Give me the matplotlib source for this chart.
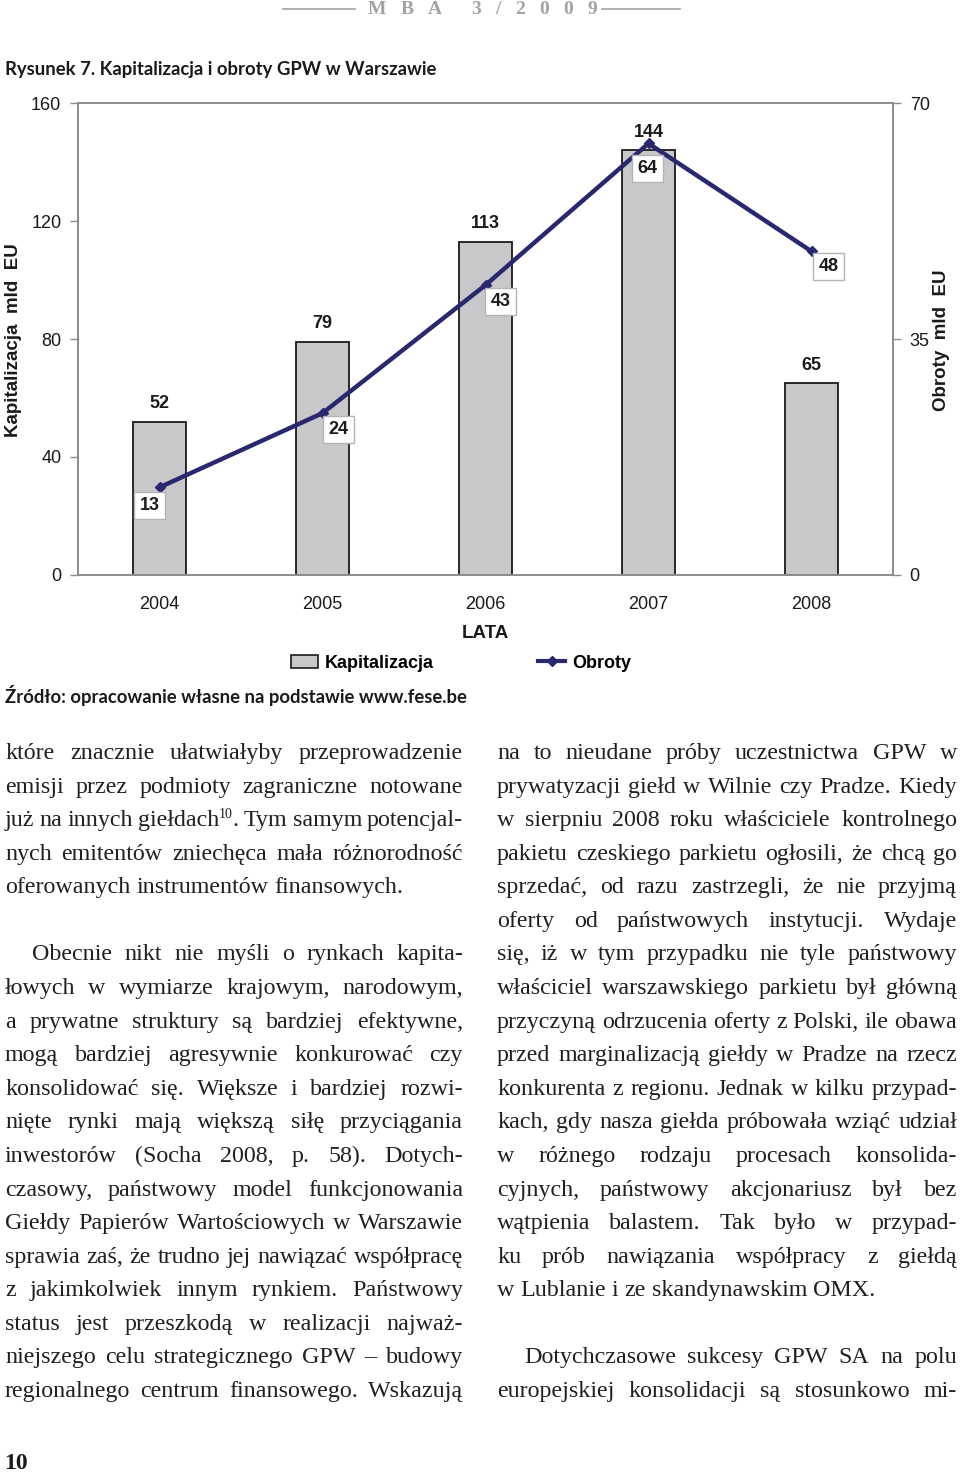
import matplotlib
matplotlib.use('Agg')
import matplotlib.pyplot as plt
from matplotlib.font_manager import FontProperties
from matplotlib.lines import Line2D
from matplotlib.patches import Patch

# chart data
years = ['2004', '2005', '2006', '2007', '2008']
kapitalizacja = [52, 79, 113, 144, 65]
obroty = [13, 24, 43, 64, 48]
left_ticks = [0, 40, 80, 120, 160]
right_ticks = [0, 35, 70]

# where the Obroty labels sit relative to their point (pixels)
obroty_offsets = [(-10, -18), (16, -16), (15, -16), (-1, -25), (17, -15)]

# page text
title = 'Rysunek 7. Kapitalizacja i obroty GPW w Warszawie'
source = 'Źródło: opracowanie własne na podstawie www.fese.be'
header = 'MBA 3/2009'
page_no = '10'

left_paragraphs = [
    (False, True, [
        'które znacznie ułatwiałyby przeprowadzenie',
        'emisji przez podmioty zagraniczne notowane',
        'już na innych giełdach^10^. Tym samym potencjal-',
        'nych emitentów zniechęca mała różnorodność',
        'oferowanych instrumentów finansowych.',
    ]),
    (True, False, [
        'Obecnie nikt nie myśli o rynkach kapita-',
        'łowych w wymiarze krajowym, narodowym,',
        'a prywatne struktury są bardziej efektywne,',
        'mogą bardziej agresywnie konkurować czy',
        'konsolidować się. Większe i bardziej rozwi-',
        'nięte rynki mają większą siłę przyciągania',
        'inwestorów (Socha 2008, p. 58). Dotych-',
        'czasowy, państwowy model funkcjonowania',
        'Giełdy Papierów Wartościowych w Warszawie',
        'sprawia zaś, że trudno jej nawiązać współpracę',
        'z jakimkolwiek innym rynkiem. Państwowy',
        'status jest przeszkodą w realizacji najważ-',
        'niejszego celu strategicznego GPW – budowy',
        'regionalnego centrum finansowego. Wskazują',
    ]),
]

right_paragraphs = [
    (False, True, [
        'na to nieudane próby uczestnictwa GPW w',
        'prywatyzacji giełd w Wilnie czy Pradze. Kiedy',
        'w sierpniu 2008 roku właściciele kontrolnego',
        'pakietu czeskiego parkietu ogłosili, że chcą go',
        'sprzedać, od razu zastrzegli, że nie przyjmą',
        'oferty od państwowych instytucji. Wydaje',
        'się, iż w tym przypadku nie tyle państwowy',
        'właściciel warszawskiego parkietu był główną',
        'przyczyną odrzucenia oferty z Polski, ile obawa',
        'przed marginalizacją giełdy w Pradze na rzecz',
        'konkurenta z regionu. Jednak w kilku przypad-',
        'kach, gdy nasza giełda próbowała wziąć udział',
        'w różnego rodzaju procesach konsolida-',
        'cyjnych, państwowy akcjonariusz był bez',
        'wątpienia balastem. Tak było w przypad-',
        'ku prób nawiązania współpracy z giełdą',
        'w Lublanie i ze skandynawskim OMX.',
    ]),
    (True, False, [
        'Dotychczasowe sukcesy GPW SA na polu',
        'europejskiej konsolidacji są stosunkowo mi-',
    ]),
]

W, H = 960, 1474
fig = plt.figure(figsize=(W / 100, H / 100), dpi=100)
renderer = fig.canvas.get_renderer()

BAR = '#c8c8ca'
LINE = '#29286e'
GRAY = '#8c8c8c'
INK = '#1a1a1a'
sans = 'Liberation Sans'
serif = 'Liberation Serif'


def fx(x):
    return x / W


def fy(y):
    return 1 - y / H


def width(s, fp):
    return renderer.get_text_width_height_descent(s, fp, ismath=False)[0]


# ---- chart ----
ax = fig.add_axes([fx(78), fy(575), (893 - 78) / W, (575 - 103) / H])
ax2 = ax.twinx()
x = list(range(len(years)))

ax.bar(x, kapitalizacja, width=0.33, color=BAR, edgecolor=INK, linewidth=1.3)
ax2.plot(x, obroty, color=LINE, lw=3.2, marker='D', ms=5, zorder=3)

ax.set_xlim(-0.5, 4.5)
ax.set_ylim(0, 160)
ax2.set_ylim(0, 70)
ax.set_yticks(left_ticks)
ax2.set_yticks(right_ticks)
ax.set_xticks(x, years)

for a in (ax, ax2):
    for sp in a.spines.values():
        sp.set_color(GRAY)
        sp.set_linewidth(1.2)
    a.tick_params(axis='y', direction='out', length=6, width=1, color=GRAY,
                  pad=6, labelsize=13, labelcolor=INK)
    for lab in a.get_yticklabels():
        lab.set_fontfamily(sans)
ax.tick_params(axis='x', length=0, pad=15, labelsize=13, labelcolor=INK)
for lab in ax.get_xticklabels():
    lab.set_fontfamily(sans)

for xi, v in zip(x, kapitalizacja):
    ax2.annotate(str(v), (xi, v), xycoords=ax.transData, xytext=(0, 18),
                 textcoords='offset pixels', ha='center', va='center',
                 fontsize=13, fontweight='bold', family=sans, color=INK,
                 zorder=5)

for xi, v, (dx, dy) in zip(x, obroty, obroty_offsets):
    ax2.annotate(str(v), (xi, v), xytext=(dx, dy), textcoords='offset pixels',
                 ha='center', va='center', fontsize=13, fontweight='bold',
                 family=sans, color=INK, zorder=6,
                 bbox=dict(boxstyle='square,pad=0.28', fc='white',
                           ec='#b4b4b4', lw=1))

fig.text(fx(14), fy(340), 'Kapitalizacja  mld  EU', rotation=90, ha='center',
         va='center', fontsize=13.5, fontweight='bold', family=sans, color=INK)
fig.text(fx(941), fy(340), 'Obroty  mld  EU', rotation=90, ha='center',
         va='center', fontsize=13.5, fontweight='bold', family=sans, color=INK)
fig.text(fx(485), fy(634), 'LATA', ha='center', va='center', fontsize=13.5,
         fontweight='bold', family=sans, color=INK)

handles = [Patch(facecolor=BAR, edgecolor=INK, linewidth=1.2),
           Line2D([], [], color=LINE, lw=3, marker='D', ms=5)]
fig.legend(handles, ['Kapitalizacja', 'Obroty'], ncol=2, loc='center',
           bbox_to_anchor=(fx(461), fy(663)), frameon=False,
           prop=FontProperties(family=sans, weight='bold', size=13),
           handlelength=1.5, handletextpad=0.35, columnspacing=5.8)


# ---- titles ----
def fitted(s, family, weight, target):
    fp = FontProperties(family=family, weight=weight, size=10)
    return 10 * target / width(s, fp)


fs = fitted(title, 'Lato', 'bold', 432)
fig.text(fx(5), fy(70), title, ha='left', va='center', fontsize=fs,
         fontweight='bold', family='Lato', color=INK)
fs = fitted(source, 'Lato', 'bold', 462)
fig.text(fx(5), fy(695), source, ha='left', va='center', fontsize=fs,
         fontweight='bold', family='Lato', color=INK)

# header with wide tracking
hp = FontProperties(family=serif, weight='bold', size=14)
natural = sum(width(c, hp) for c in header if c != ' ')
track = (597 - 368 - natural) / (len(header) - 1)
hx = 368
for c in header:
    if c != ' ':
        fig.text(fx(hx), fy(14), c, ha='left', va='baseline',
                 fontproperties=hp, color='#a2a2a2')
        hx += width(c, hp)
    hx += track
for x0, x1 in [(283, 355), (602, 680)]:
    fig.add_artist(Line2D([fx(x0), fx(x1)], [fy(9), fy(9)], color='#a2a2a2',
                          lw=1.2))

fig.text(fx(4), fy(1469), page_no, ha='left', va='baseline', fontsize=17,
         fontweight='bold', family=serif, color=INK)

# ---- body text, justified ----
# largest size (up to the page's) where every justified line still fits
all_lines = [ln for paras in (left_paragraphs, right_paragraphs)
             for _, _, lines in paras for ln in lines]
probe = FontProperties(family=serif, size=10)
limit = 17.8
for ln in all_lines:
    words = ln.replace('^', '').split(' ')
    nat = sum(width(w, probe) for w in words) + 0.12 * 10 / 0.72 * (len(words) - 1)
    limit = min(limit, 10 * 456 / nat)
body_size = limit
body_fp = FontProperties(family=serif, size=body_size)
sup_fp = FontProperties(family=serif, size=body_size * 0.58)
space_w = width('a a', body_fp) - width('aa', body_fp)


def word_parts(word):
    parts = word.split('^')
    return [(p, i % 2 == 1) for i, p in enumerate(parts) if p]


def word_width(word):
    return sum(width(p, sup_fp if sup else body_fp) for p, sup in word_parts(word))


def draw_word(xp, yp, word):
    for p, sup in word_parts(word):
        fp = sup_fp if sup else body_fp
        fig.text(fx(xp), fy(yp - (8 if sup else 0)), p, ha='left',
                 va='baseline', fontproperties=fp, color='#231f20')
        xp += width(p, fp)


def draw_column(x0, x1, paragraphs, indent=27, y0=759, pitch=33.58):
    row = 0
    for indented, ends, lines in paragraphs:
        for i, line in enumerate(lines):
            start = x0 + (indent if indented and i == 0 else 0)
            words = line.split(' ')
            widths = [word_width(w) for w in words]
            last = ends and i == len(lines) - 1
            if last or len(words) < 2:
                gap = space_w
            else:
                gap = (x1 - start - sum(widths)) / (len(words) - 1)
            xp = start
            for w, wd in zip(words, widths):
                draw_word(xp, y0 + pitch * row, w)
                xp += wd + gap
            row += 1
        if ends:
            row += 1


draw_column(5, 463, left_paragraphs)
draw_column(497, 957, right_paragraphs)

fig.savefig('out.png', dpi=100)
